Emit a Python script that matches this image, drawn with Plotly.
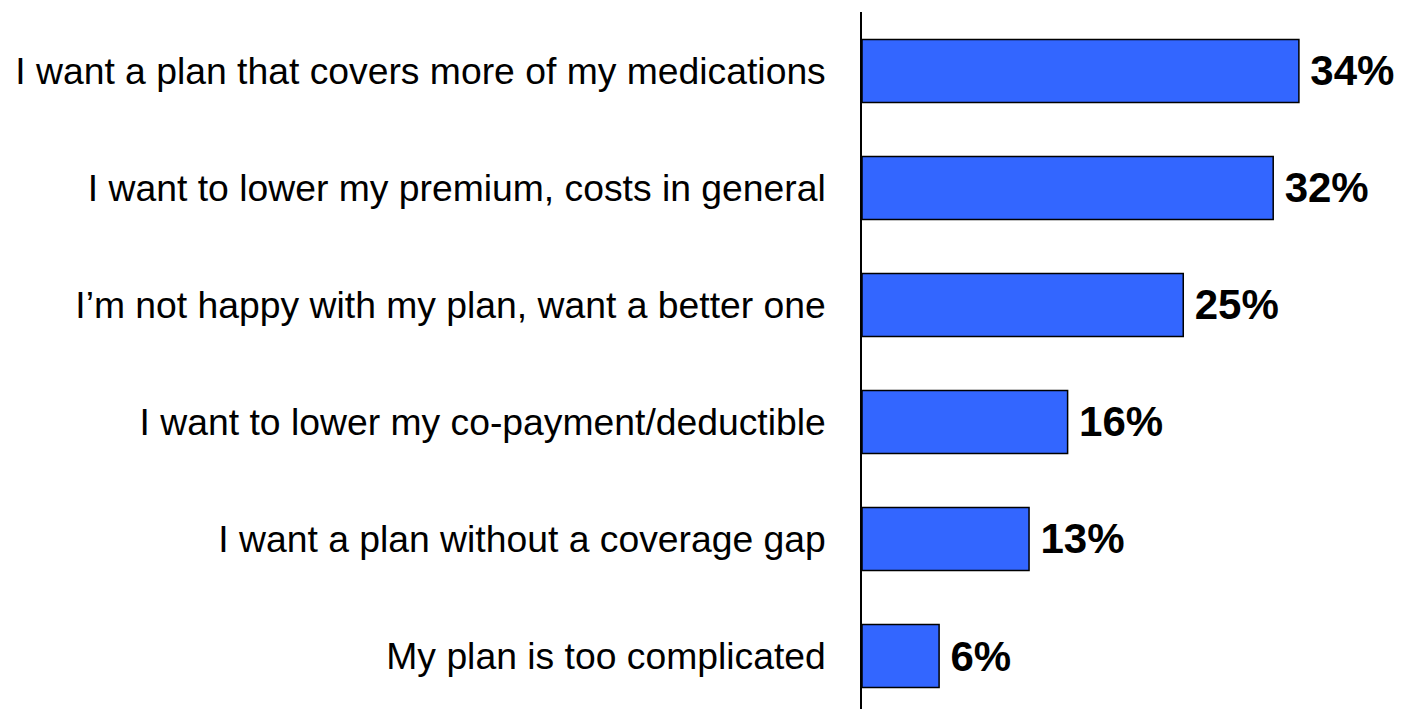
import plotly.graph_objects as go

categories = [
    "I want a plan that covers more of my medications",
    "I want to lower my premium, costs in general",
    "I\u2019m not happy with my plan, want a better one",
    "I want to lower my co-payment/deductible",
    "I want a plan without a coverage gap",
    "My plan is too complicated",
]
values = [34, 32, 25, 16, 13, 6]
labels = [f"\u2009{v}%" for v in values]
positions = list(range(len(categories)))

fig = go.Figure(
    go.Bar(
        x=values,
        y=positions,
        orientation="h",
        width=0.54,
        marker=dict(color="#3366FF", line=dict(color="black", width=1.5)),
        text=labels,
        textposition="outside",
        textfont=dict(family="Arial, Liberation Sans, sans-serif", size=42, color="black", weight="bold"),
        cliponaxis=False,
    )
)

fig.update_layout(
    width=1395,
    height=701,
    margin=dict(l=854, r=0, t=4, b=0),
    plot_bgcolor="white",
    paper_bgcolor="white",
    showlegend=False,
    font=dict(family="Arial, Liberation Sans, sans-serif", color="black"),
)
fig.update_xaxes(range=[0, 42.1], visible=False, showgrid=False, zeroline=False)
fig.update_yaxes(
    tickmode="array",
    tickvals=positions,
    ticktext=categories,
    range=[5.453, -0.504],
    showline=True,
    linecolor="black",
    linewidth=1.5,
    showgrid=False,
    zeroline=False,
    ticks="",
    ticklabelstandoff=27,
    tickfont=dict(size=37.3, color="black"),
)

fig.write_html("out.html")
